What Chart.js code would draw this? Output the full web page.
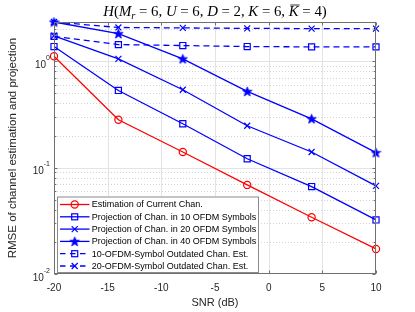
<!DOCTYPE html>
<html><head><meta charset="utf-8">
<script src="https://cdn.jsdelivr.net/npm/chart.js@4/dist/chart.umd.min.js"></script>
<style>html,body{margin:0;padding:0;background:#fff}#wrap{width:415px;height:312px;position:relative}</style>
</head><body><div id="wrap"><canvas id="c" width="415" height="312"></canvas></div>
<script>
// ---- data ----
const snr = [-20, -14, -8, -2, 4, 10];
const estCurrent = [1.11, 0.281, 0.140, 0.0687, 0.0341, 0.0172];
const proj10 = [1.37, 0.53, 0.258, 0.121, 0.0663, 0.0322];
const proj20 = [1.73, 1.05, 0.538, 0.247, 0.140, 0.0673];
const proj40 = [2.33, 1.81, 1.05, 0.519, 0.287, 0.138];
const outdated10 = [1.71, 1.43, 1.40, 1.37, 1.36, 1.36];
const outdated20 = [2.33, 2.07, 2.05, 2.03, 2.02, 2.02];
const seriesLabels = [
  'Estimation of Current Chan.',
  'Projection of Chan. in 10 OFDM Symbols',
  'Projection of Chan. in 20 OFDM Symbols',
  'Projection of Chan. in 40 OFDM Symbols',
  '10-OFDM-Symbol Outdated Chan. Est.',
  '20-OFDM-Symbol Outdated Chan. Est.'
];
const xTicks = [-20, -15, -10, -5, 0, 5, 10];
const yDecades = [0.01, 0.1, 1];
const yDecadeExp = ['-2', '-1', '0'];
const xTitle = 'SNR (dB)';
const yTitle = 'RMSE of channel estimation and projection';

const RED = '#ff0000', BLUE = '#0000ff';
function makeStar(size, color) {
  const c = document.createElement('canvas');
  c.width = size; c.height = size;
  const g = c.getContext('2d');
  const cx = size / 2, cy = size / 2 + 0.4, R = size / 2 - 0.5, r = R * 0.42;
  g.beginPath();
  for (let i = 0; i < 10; i++) {
    const a = -Math.PI / 2 + i * Math.PI / 5, rr = i % 2 ? r : R;
    g.lineTo(cx + rr * Math.cos(a), cy + rr * Math.sin(a));
  }
  g.closePath();
  g.fillStyle = color; g.fill();
  g.strokeStyle = color; g.lineWidth = 0.8; g.stroke();
  return c;
}
const starImg = makeStar(11, BLUE);

function pts(arr) { return snr.map((x, i) => ({x: x, y: arr[i]})); }
function ds(label, arr, color, style, radius, dashed) {
  return {
    label: label, data: pts(arr), borderColor: color, backgroundColor: 'rgba(0,0,0,0)',
    borderWidth: 1.3, pointStyle: style, pointRadius: radius, pointBorderWidth: 1.2,
    pointBorderColor: color, pointBackgroundColor: 'rgba(0,0,0,0)',
    borderDash: dashed ? [6, 4] : [], tension: 0, clip: false, fill: false
  };
}
const datasets = [
  ds(seriesLabels[0], estCurrent, RED, 'circle', 3.6, false),
  ds(seriesLabels[1], proj10, BLUE, 'rect', 4.3, false),
  ds(seriesLabels[2], proj20, BLUE, 'crossRot', 4.2, false),
  ds(seriesLabels[3], proj40, BLUE, starImg, 5.5, false),
  ds(seriesLabels[4], outdated10, BLUE, 'rect', 4.3, true),
  ds(seriesLabels[5], outdated20, BLUE, 'crossRot', 4.2, true)
];

function drawMarker(ctx, style, x, y, color) {
  ctx.save();
  ctx.strokeStyle = color; ctx.lineWidth = 1.2; ctx.setLineDash([]);
  if (style === 'circle') { ctx.beginPath(); ctx.arc(x, y, 3.6, 0, Math.PI * 2); ctx.stroke(); }
  else if (style === 'rect') { const s = 3; ctx.strokeRect(x - s, y - s, 2 * s, 2 * s); }
  else if (style === 'crossRot') { const s = 3; ctx.beginPath(); ctx.moveTo(x - s, y - s); ctx.lineTo(x + s, y + s); ctx.moveTo(x - s, y + s); ctx.lineTo(x + s, y - s); ctx.stroke(); }
  else { ctx.drawImage(style, x - style.width / 2, y - style.height / 2); }
  ctx.restore();
}

const FONT = "'Liberation Sans', Arial, sans-serif";
const SERIF = "'Liberation Serif', 'Times New Roman', serif";
const titleParts = [
  {t: 'H', it: true}, {t: '(', it: false}, {t: 'M', it: true}, {t: 'r', it: true, sub: true},
  {t: ' = 6, ', it: false}, {t: 'U', it: true}, {t: ' = 6, ', it: false},
  {t: 'D', it: true}, {t: ' = 2, ', it: false}, {t: 'K', it: true}, {t: ' = 6, ', it: false},
  {t: 'K', it: true, over: true}, {t: ' = 4)', it: false}
];

const matlabAxes = {
  id: 'matlabAxes',
  beforeDatasetsDraw(chart) {
    const ctx = chart.ctx, a = chart.chartArea, xs = chart.scales.x, ys = chart.scales.y;
    ctx.save();
    ctx.lineWidth = 1;
    ctx.strokeStyle = '#e3e3e3';
    xTicks.forEach(v => {
      if (v <= xs.min || v >= xs.max) return;
      const px = Math.round(xs.getPixelForValue(v)) + 0.5;
      ctx.beginPath(); ctx.moveTo(px, a.top); ctx.lineTo(px, a.bottom); ctx.stroke();
    });
    yDecades.forEach(d => {
      if (d > ys.min && d < ys.max) {
        const py = Math.round(ys.getPixelForValue(d)) + 0.5;
        ctx.strokeStyle = '#e3e3e3'; ctx.setLineDash([]);
        ctx.beginPath(); ctx.moveTo(a.left, py); ctx.lineTo(a.right, py); ctx.stroke();
      }
      for (let m = 2; m <= 9; m++) {
        const v = m * d;
        if (v <= ys.min || v >= ys.max) continue;
        const py = Math.round(ys.getPixelForValue(v)) + 0.5;
        ctx.strokeStyle = '#d2d2d2'; ctx.setLineDash([1, 2]);
        ctx.beginPath(); ctx.moveTo(a.left, py); ctx.lineTo(a.right, py); ctx.stroke();
      }
    });
    ctx.restore();
  },
  afterDraw(chart) {
    const ctx = chart.ctx, a = chart.chartArea, xs = chart.scales.x, ys = chart.scales.y;
    ctx.save();
    // box
    ctx.strokeStyle = '#707070'; ctx.lineWidth = 1; ctx.setLineDash([]);
    const L = Math.round(a.left) + 0.5, R = Math.round(a.right) - 0.5, T = Math.round(a.top) + 0.5, B = Math.round(a.bottom) - 0.5;
    ctx.strokeRect(L, T, R - L, B - T);
    // ticks
    ctx.beginPath();
    xTicks.forEach(v => {
      const px = Math.round(xs.getPixelForValue(v)) + 0.5;
      ctx.moveTo(px, B); ctx.lineTo(px, B - 3);
      ctx.moveTo(px, T); ctx.lineTo(px, T + 3);
    });
    yDecades.forEach(d => {
      for (let m = 1; m <= 9; m++) {
        const v = m * d;
        if (v < ys.min || v > ys.max) continue;
        const len = m === 1 ? 3 : 1.8;
        const py = Math.round(ys.getPixelForValue(v)) + 0.5;
        ctx.moveTo(L, py); ctx.lineTo(L + len, py);
        ctx.moveTo(R, py); ctx.lineTo(R - len, py);
      }
    });
    ctx.stroke();
    // y tick labels with superscripts
    ctx.fillStyle = '#262626';
    yDecades.forEach((d, i) => {
      const py = ys.getPixelForValue(d);
      ctx.font = '7px ' + FONT;
      const ew = ctx.measureText(yDecadeExp[i]).width;
      const right = 50;
      ctx.textAlign = 'left'; ctx.textBaseline = 'alphabetic';
      ctx.fillText(yDecadeExp[i], right - ew, py - 1.5);
      ctx.font = '10px ' + FONT;
      ctx.textAlign = 'right';
      ctx.fillText('10', right - ew, py + 6.8);
    });
    // legend
    const lx = 57, ly = 196.5, lw = 201, lh = 75.5;
    ctx.fillStyle = '#ffffff'; ctx.fillRect(lx, ly, lw, lh);
    ctx.strokeStyle = '#8a8a8a'; ctx.lineWidth = 1;
    ctx.strokeRect(lx + 0.5, ly + 0.5, lw, lh);
    chart.data.datasets.forEach((dset, i) => {
      const y = 204.5 + i * 12.3;
      ctx.save();
      ctx.strokeStyle = dset.borderColor; ctx.lineWidth = 1.3;
      ctx.setLineDash(dset.borderDash.length ? [5.5, 4.5] : []);
      ctx.beginPath(); ctx.moveTo(60, y); ctx.lineTo(89.5, y); ctx.stroke();
      ctx.restore();
      drawMarker(ctx, dset.pointStyle, 74.7, y, dset.borderColor);
      ctx.fillStyle = '#000'; ctx.font = '9px ' + FONT; ctx.textAlign = 'left'; ctx.textBaseline = 'middle';
      ctx.fillText(dset.label, 91.7, y + 0.5);
    });
    // title
    const size = 14.8;
    const fontFor = p => (p.it ? 'italic ' : '') + (p.sub ? size * 0.72 : size) + 'px ' + SERIF;
    let total = 0;
    titleParts.forEach(p => { ctx.font = fontFor(p); p.w = ctx.measureText(p.t).width; total += p.w; });
    let x = (a.left + a.right) / 2 - total / 2;
    const base = 16;
    ctx.fillStyle = '#000'; ctx.textAlign = 'left'; ctx.textBaseline = 'alphabetic';
    titleParts.forEach(p => {
      ctx.font = fontFor(p);
      ctx.fillText(p.t, x, p.sub ? base + 3 : base);
      if (p.over) {
        ctx.strokeStyle = '#000'; ctx.lineWidth = 0.8;
        ctx.beginPath(); ctx.moveTo(x + 1.5, base - 11); ctx.lineTo(x + p.w + 1, base - 11); ctx.stroke();
      }
      x += p.w;
    });
    ctx.restore();
  }
};

new Chart(document.getElementById('c'), {
  type: 'line',
  data: {datasets: datasets},
  plugins: [matlabAxes],
  options: {
    responsive: false, animation: false, devicePixelRatio: 1,
    layout: {padding: {left: 0, right: 39, top: 22, bottom: 0}},
    plugins: {legend: {display: false}, title: {display: false}, tooltip: {enabled: false}},
    scales: {
      x: {
        type: 'linear', min: -20, max: 10,
        afterBuildTicks: s => { s.ticks = xTicks.map(v => ({value: v})); },
        ticks: {color: '#262626', font: {family: FONT, size: 10}, padding: 8, maxRotation: 0, autoSkip: false},
        grid: {display: false, drawTicks: false}, border: {display: false},
        title: {display: true, text: xTitle, color: '#262626', font: {family: FONT, size: 11}, padding: {top: 0, bottom: 2}},
        afterFit: s => { s.height = 38; }
      },
      y: {
        type: 'logarithmic', min: 0.01, max: 2.33,
        ticks: {display: false}, grid: {display: false, drawTicks: false}, border: {display: false},
        title: {display: true, text: yTitle, color: '#262626', font: {family: FONT, size: 11.5}, padding: {top: 6, bottom: 0}},
        afterFit: s => { s.width = 54; }
      }
    }
  }
});
</script></body></html>
